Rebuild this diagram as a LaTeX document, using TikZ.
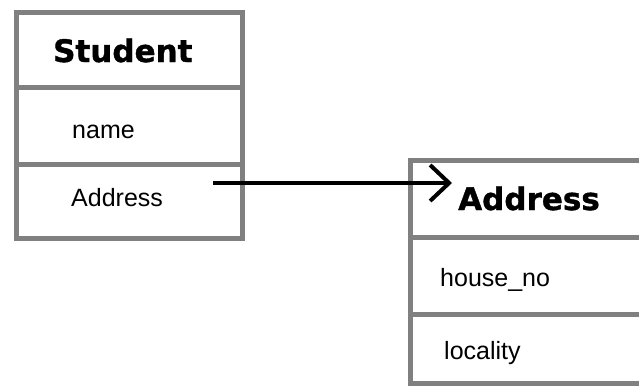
\documentclass[tikz,border=0pt]{standalone}
\usepackage{fontspec}
\setmainfont{Liberation Sans}
\newfontfamily\headfont{DejaVu Sans Bold}[FakeBold=1.2]
\usetikzlibrary{arrows.meta}
\definecolor{boxgray}{HTML}{808080}
\tikzset{
  cell/.style={draw=boxgray, line width=5pt, fill=white, inner sep=0pt},
  headtext/.style={anchor=base west, inner sep=0pt, font=\headfont\fontsize{31}{31}\selectfont},
  fieldtext/.style={anchor=base west, inner sep=0pt, font=\fontsize{25}{25}\selectfont},
  link/.style={line width=4pt, -{Straight Barb[length=19pt, width=36pt, line width=4pt]}}
}
\begin{document}
\begin{tikzpicture}[x=1pt, y=-1pt]
\clip (0,0) rectangle (639,386);
\fill[white] (0,0) rectangle (639,386);
% Student class
\node[cell, minimum width=226pt, minimum height=75pt] (shead) at (129.5,50) {};
\node[cell, minimum width=226pt, minimum height=77pt] (sname) at (129.5,126) {};
\node[cell, minimum width=226pt, minimum height=74pt] (saddr) at (129.5,201.5) {};
\node[headtext] (tstudent) at (53,62) {Student};
\node[fieldtext] (tname) at (72,138) {name};
\node[fieldtext] (tsaddr) at (71,206) {Address};
% Address class
\node[cell, minimum width=290pt, minimum height=77pt] (ahead) at (555,199) {};
\node[cell, minimum width=290pt, minimum height=77pt] (ahouse) at (555,276) {};
\node[cell, minimum width=290pt, minimum height=69pt] (aloc) at (555,349) {};
\node[headtext] (taddress) at (458,210) {Address};
\node[fieldtext] (thouse) at (440,286) {house\_no};
\node[fieldtext] (tloc) at (444,359) {locality};
% association arrow
\coordinate (from) at (213,183);
\coordinate (to) at (452,183);
\draw[link] (from) -- (to);
\end{tikzpicture}
\end{document}
